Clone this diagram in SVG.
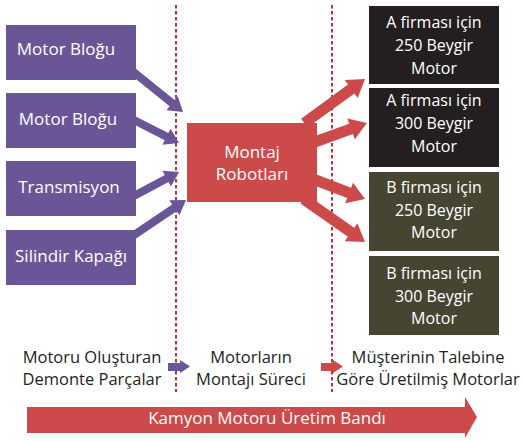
<svg xmlns="http://www.w3.org/2000/svg" width="523" height="441" viewBox="0 0 523 441">
  <style>
    .lbl { font-family: "Open Sans", "DejaVu Sans", sans-serif; text-anchor: middle; }
    .wt { fill: #ffffff; font-size: 17px; }
    .ws { fill: #ffffff; font-size: 16px; }
    .dk { fill: #231f20; font-size: 16.5px; }
    .part { fill: #6a5697; }
    .robot { fill: #cd4a4b; }
    .firmA { fill: #231f20; }
    .firmB { fill: #464531; }
    .divider { stroke: #cf2b3f; stroke-width: 2; stroke-dasharray: 3.5 2.5; fill: none; }
    .pArrow { fill: #6a5697; }
    .rArrow { fill: #cd4a4b; }
  </style>

  <!-- stage dividers -->
  <g id="dividers">
    <line class="divider" x1="176" y1="5" x2="176" y2="392"/>
    <line class="divider" x1="332" y1="5" x2="332" y2="392"/>
  </g>

  <!-- connectors: arrows drawn along +x with the tip at the origin, then rotated -->
  <g id="connectors">
    <g transform="translate(183,112) rotate(39)"><polygon class="pArrow" points="-75,-4 -14,-4 -14,-9 0,0 -14,9 -14,4 -75,4"/></g>
    <g transform="translate(179,143) rotate(27)"><polygon class="pArrow" points="-60,-4 -14,-4 -14,-9 0,0 -14,9 -14,4 -60,4"/></g>
    <g transform="translate(179,172) rotate(-28)"><polygon class="pArrow" points="-60,-4 -14,-4 -14,-9 0,0 -14,9 -14,4 -60,4"/></g>
    <g transform="translate(186,200) rotate(-34)"><polygon class="pArrow" points="-70,-4 -14,-4 -14,-9 0,0 -14,9 -14,4 -70,4"/></g>

    <g transform="translate(365,79) rotate(-36)"><polygon class="rArrow" points="-75,-5.5 -17,-5.5 -17,-11 0,0 -17,11 -17,5.5 -75,5.5"/></g>
    <g transform="translate(367,123) rotate(-20)"><polygon class="rArrow" points="-60,-5.5 -17,-5.5 -17,-11 0,0 -17,11 -17,5.5 -60,5.5"/></g>
    <g transform="translate(365,199) rotate(21)"><polygon class="rArrow" points="-60,-5.5 -17,-5.5 -17,-11 0,0 -17,11 -17,5.5 -60,5.5"/></g>
    <g transform="translate(365,242) rotate(35)"><polygon class="rArrow" points="-75,-5.5 -17,-5.5 -17,-11 0,0 -17,11 -17,5.5 -75,5.5"/></g>

    <!-- stage transition arrows -->
    <polygon class="pArrow" points="168,363 180,363 180,360 190,366.5 180,373 180,371 168,371"/>
    <polygon class="rArrow" points="321,363 333,363 333,360 343,366.5 333,373 333,371 321,371"/>
  </g>

  <!-- parts -->
  <g id="part-motor-blogu-1">
    <rect class="part" x="6" y="25" width="130" height="55"/>
    <text class="lbl wt" x="66" y="55">Motor Bloğu</text>
  </g>
  <g id="part-motor-blogu-2">
    <rect class="part" x="6" y="93" width="130" height="55"/>
    <text class="lbl wt" x="68" y="125">Motor Bloğu</text>
  </g>
  <g id="part-transmisyon">
    <rect class="part" x="6" y="161" width="130" height="55"/>
    <text class="lbl wt" x="69" y="193">Transmisyon</text>
  </g>
  <g id="part-silindir-kapagi">
    <rect class="part" x="6" y="230" width="130" height="55"/>
    <text class="lbl wt" x="71" y="262">Silindir Kapağı</text>
  </g>

  <!-- assembly -->
  <g id="montaj-robotlari">
    <rect class="robot" x="187" y="123" width="130" height="79"/>
    <text class="lbl wt" x="252" y="158">Montaj</text>
    <text class="lbl wt" x="252" y="180">Robotları</text>
  </g>

  <!-- products -->
  <g id="a-250">
    <rect class="firmA" x="369" y="6" width="130" height="78"/>
    <text class="lbl ws" x="434" y="28">A firması için</text>
    <text class="lbl ws" x="434" y="51">250 Beygir</text>
    <text class="lbl ws" x="434" y="74">Motor</text>
  </g>
  <g id="a-300">
    <rect class="firmA" x="369" y="88" width="130" height="79"/>
    <text class="lbl ws" x="434" y="106">A firması için</text>
    <text class="lbl ws" x="434" y="129">300 Beygir</text>
    <text class="lbl ws" x="434" y="152">Motor</text>
  </g>
  <g id="b-250">
    <rect class="firmB" x="369" y="172" width="130" height="79"/>
    <text class="lbl ws" x="434" y="193">B firması için</text>
    <text class="lbl ws" x="434" y="216">250 Beygir</text>
    <text class="lbl ws" x="434" y="238">Motor</text>
  </g>
  <g id="b-300">
    <rect class="firmB" x="369" y="256" width="130" height="79"/>
    <text class="lbl ws" x="434" y="279">B firması için</text>
    <text class="lbl ws" x="434" y="302">300 Beygir</text>
    <text class="lbl ws" x="434" y="324">Motor</text>
  </g>

  <!-- stage captions -->
  <g id="caption-parts">
    <text class="lbl dk" x="92" y="363">Motoru Oluşturan</text>
    <text class="lbl dk" x="92" y="385">Demonte Parçalar</text>
  </g>
  <g id="caption-assembly">
    <text class="lbl dk" x="251" y="363">Motorların</text>
    <text class="lbl dk" x="251" y="385">Montajı Süreci</text>
  </g>
  <g id="caption-products">
    <text class="lbl dk" x="428" y="363">Müşterinin Talebine</text>
    <text class="lbl dk" x="428" y="385">Göre Üretilmiş Motorlar</text>
  </g>

  <!-- production line band -->
  <g id="uretim-bandi">
    <polygon class="rArrow" points="27,407 465,407 465,397 477,417 465,438 465,433 27,433"/>
    <text class="lbl wt" x="267" y="424">Kamyon Motoru Üretim Bandı</text>
  </g>
</svg>
